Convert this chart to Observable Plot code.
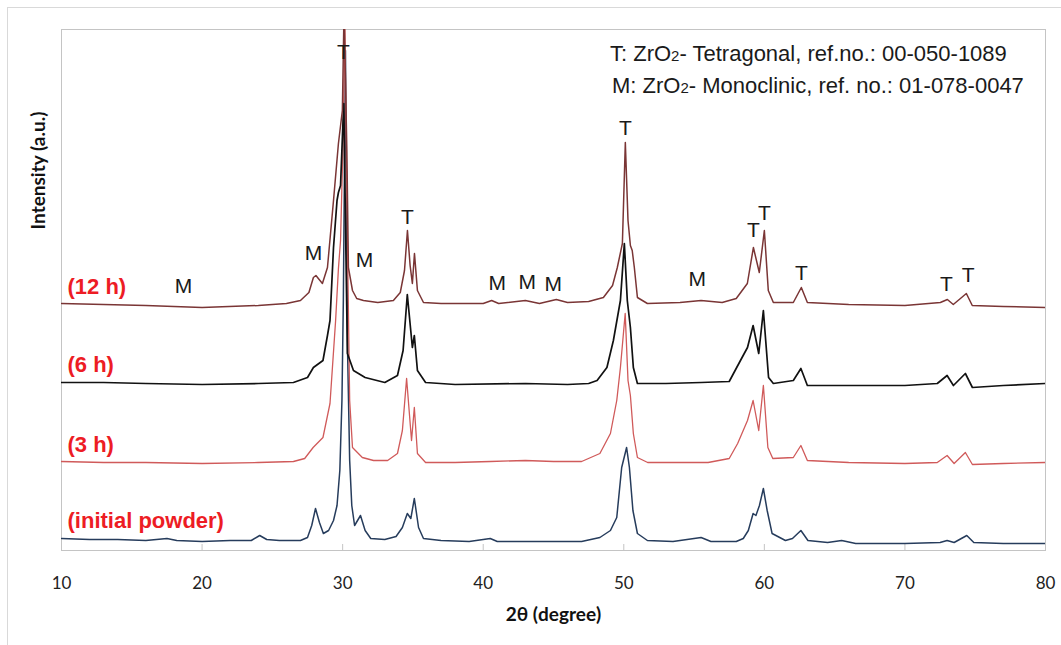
<!DOCTYPE html>
<html>
<head>
<meta charset="utf-8">
<script src="https://cdn.jsdelivr.net/npm/d3@7"></script>
<script src="https://cdn.jsdelivr.net/npm/@observablehq/plot@0.6"></script>
<style>
  body { margin: 0; background: #fff; }
  #wrap { position: relative; width: 1061px; height: 645px; overflow: hidden; background: #fff; }
  #outer { position: absolute; left: 7px; top: 7px; width: 1200px; height: 800px;
           border-top: 1px solid #d9d9d9; border-left: 1px solid #d9d9d9; }
  #chart { position: absolute; left: 0; top: 0; }
</style>
</head>
<body>
<div id="wrap"><div id="outer"></div><div id="chart"></div></div>
<script>
// ---------- data (2θ in degrees, intensity in a.u. relative to each pattern's own zero) ----------
const xTicks = [10, 20, 30, 40, 50, 60, 70, 80];

const seriesNames = ["initial powder", "3 h", "6 h", "12 h"];
const seriesLabels = ["(initial powder)", "(3 h)", "(6 h)", "(12 h)"];
const seriesOffsets = [0, 78, 157, 236];          // vertical stacking of the patterns (a.u.)
const seriesLabelY = [30, 106, 186, 264];          // label heights (a.u.)

const patternInitial = [
  [10,12],[12,11],[14,11],[16,10],[17.5,12],[18.2,10],[20,9],[22,10],[23.5,10],[24.1,15],[24.6,11],
  [25.5,10],[27,10],[27.5,13],[27.8,25],[28.07,42],[28.35,28],[28.63,17],[29.0,20],[29.35,30],
  [29.6,45],[29.8,80],[29.95,150],[30.05,250],[30.2,500],[30.35,200],[30.5,90],[30.65,45],
  [30.85,25],[31.27,35],[31.6,20],[32.0,12],[33,11],[33.8,14],[34.25,23],[34.6,37],[34.85,32],
  [35.1,52],[35.4,23],[35.75,12],[37,10],[39,9],[40.5,12],[41,9],[43,9],[45,9],[47,9],[48.3,13],
  [49.05,20],[49.5,33],[49.85,83],[50.2,103],[50.4,83],[50.65,40],[50.97,17],[51.68,10],[53.5,9],
  [55.5,13],[56.2,9],[58,9],[58.5,12],[58.86,20],[59.2,37],[59.4,35],[59.65,45],[59.93,62],
  [60.2,40],[60.55,17],[61.5,10],[62.0,12],[62.6,20],[63.1,10],[64.5,8],[65.5,10],[66.5,7],
  [70,7],[72.5,8],[73.0,10],[73.5,8],[74.4,15],[74.9,8],[77,7],[80,7]
];

const pattern3h = [
  [10,11],[13,10],[16,10],[20,9],[24,10],[26.5,11],[27.3,14],[27.9,25],[28.6,35],[29.1,69],
  [29.5,152],[29.7,204],[29.85,232],[30.05,342],[30.15,462],[30.3,272],[30.5,72],[30.7,25],
  [31.4,15],[32.2,12],[33.2,12],[33.9,19],[34.25,42],[34.55,94],[34.9,32],[35.1,65],[35.32,19],
  [35.9,10],[38,10],[40.5,11],[43,12],[45,11],[47,11],[48.3,19],[49.05,39],[49.5,72],[49.76,105],
  [50.1,159],[50.3,92],[50.47,77],[50.68,39],[50.97,15],[51.7,10],[54,10],[56,10],[57.5,14],
  [58.1,29],[58.8,52],[59.2,72],[59.6,42],[59.93,87],[60.25,25],[60.6,14],[62.06,15],[62.6,27],
  [63.06,12],[66,10],[70,9],[72.3,10],[73.0,17],[73.5,9],[74.3,20],[74.8,8],[77,9],[80,10]
];

const pattern6h = [
  [10,11],[13,11],[16,10],[20,9],[24,10],[26.5,11],[27.5,16],[27.92,26],[28.6,33],[28.92,58],
  [29.1,73],[29.35,146],[29.6,193],[29.7,201],[29.85,208],[30.0,263],[30.08,290],[30.2,173],
  [30.34,40],[30.77,23],[31.6,16],[33,11],[33.9,18],[34.3,43],[34.6,99],[34.96,46],[35.1,58],
  [35.32,23],[35.9,11],[38,9],[43,10],[46,9],[47.5,10],[48.1,13],[48.8,26],[49.26,53],[49.76,93],
  [50.04,150],[50.25,93],[50.47,66],[50.68,26],[50.97,10],[53,10],[55.5,11],[57.5,12],[58.3,33],
  [58.8,46],[59.2,68],[59.6,40],[59.93,83],[60.3,16],[60.64,10],[62.06,13],[62.6,25],[63.06,8],
  [66,8],[70,8],[72.3,10],[73.0,18],[73.45,8],[74.3,20],[74.8,6],[77,8],[80,10]
];

const pattern12h = [
  [10,11],[13,10],[16,9],[20,7],[24,9],[26,11],[27,14],[27.6,22],[27.92,37],[28.1,39],[28.56,31],
  [28.92,47],[29.35,114],[29.7,171],[29.98,204],[30.1,304],[30.3,164],[30.41,47],[30.7,24],
  [31.0,16],[31.48,14],[32.5,12],[33.61,14],[34.1,22],[34.4,44],[34.61,84],[34.8,49],[34.96,31],
  [35.11,61],[35.32,24],[35.75,12],[37,11],[40,11],[40.6,14],[41.1,11],[43,14],[44,11],[45.2,15],
  [46,12],[47.5,13],[48.55,17],[49.2,29],[49.54,47],[49.9,71],[50.11,172],[50.3,94],[50.47,69],
  [50.6,64],[50.75,47],[50.97,17],[51.68,11],[54,12],[55.5,14],[57,12],[58,16],[58.79,31],
  [59.22,67],[59.64,42],[60.0,84],[60.28,24],[60.64,12],[62.06,12],[62.63,27],[63.06,12],[66,10],
  [70,9],[72.52,12],[73.02,15],[73.44,10],[74.37,21],[74.79,9],[77,8],[80,7]
];

// phase markers: label, 2θ, height (a.u.)
const markerLabels = ["T","M","M","T","M","M","M","T","M","T","T","T","T","T","M"];
const markerTheta  = [30.06,27.92,31.55,34.6,41.0,43.14,44.99,50.11,55.23,59.22,60.0,62.63,72.95,74.5,18.68];
const markerHeight = [498,297,290,333,267,268,266,422,271,320,337,277,266,275,264];

const seriesColors = ["#263c5c", "#d05a5a", "#111111", "#7a3535"];
const seriesWidths = [1.5, 1.3, 1.7, 1.5];
const patterns = [patternInitial, pattern3h, pattern6h, pattern12h];

// ---------- build tables ----------
const lineMarks = patterns.map((p, i) => {
  const rows = p.map(([t, v]) => ({theta: t, value: v + seriesOffsets[i], series: seriesNames[i]}));
  return Plot.line(rows, {x: "theta", y: "value", stroke: seriesColors[i], strokeWidth: seriesWidths[i], clip: true});
});
const labelRows = seriesLabels.map((s, i) => ({text: s, y: seriesLabelY[i]}));
const markerRows = markerLabels.map((m, i) => ({text: m, x: markerTheta[i], y: markerHeight[i]}));

const chart = Plot.plot({
  width: 1061,
  height: 645,
  marginLeft: 61,
  marginRight: 16,
  marginTop: 29,
  marginBottom: 95,
  style: {background: "transparent", fontFamily: "Lato, sans-serif"},
  x: {domain: [10, 80]},
  y: {domain: [0, 521], axis: null},
  marks: [
    Plot.frame({stroke: "#c4c4c4"}),
    Plot.ruleX(xTicks, {y1: 0, y2: 0, insetTop: -6, stroke: "#c4c4c4"}),
    Plot.axisX({ticks: xTicks, tickSize: 0, tickPadding: 26, fontSize: 17, fill: "#222", label: null, fontFamily: "Lato, sans-serif"}),
    ...lineMarks,
    Plot.text(markerRows, {x: "x", y: "y", text: "text", fontSize: 21, fill: "#1a1a1a", fontFamily: "Liberation Sans, Arial, sans-serif"}),
    Plot.text(labelRows, {x: 10, y: "y", text: "text", textAnchor: "start", dx: 6, fontSize: 22, fontWeight: "bold", fill: "#ed1c24", fontFamily: "Liberation Sans, Arial, sans-serif"}),
    Plot.text(["2θ (degree)"], {frameAnchor: "bottom", dy: 70, fontSize: 19, fontWeight: "bold", fill: "#111", fontFamily: "Lato, sans-serif"}),
    Plot.text(["Intensity (a.u.)"], {frameAnchor: "top-left", textAnchor: "middle", lineAnchor: "middle", dx: -23, dy: 141, rotate: -90, fontSize: 19, fontWeight: "bold", fill: "#111", fontFamily: "Lato, sans-serif"})
  ]
});
document.getElementById("chart").appendChild(chart);

// ---------- phase reference legend (with subscript 2) ----------
const legendLines = [
  {pre: "T: ZrO", sub: "2", post: "- Tetragonal, ref.no.: 00-050-1089"},
  {pre: "M: ZrO", sub: "2", post: "- Monoclinic, ref. no.: 01-078-0047"}
];
const svg = d3.select(chart);
legendLines.forEach((l, i) => {
  const t = svg.append("text")
    .attr("x", 610 + i * 2).attr("y", 61 + i * 32)
    .attr("text-anchor", "start")
    .attr("font-family", "Liberation Sans, Arial, sans-serif")
    .attr("font-size", 22).attr("fill", "#1a1a1a");
  t.append("tspan").text(l.pre);
  t.append("tspan").attr("font-size", 15).text(l.sub);
  t.append("tspan").text(l.post);
});
</script>
</body>
</html>
